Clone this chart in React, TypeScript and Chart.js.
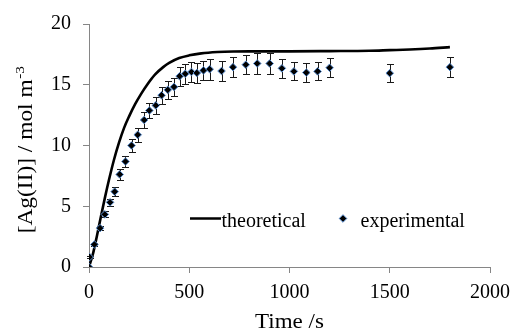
import React, { useEffect, useRef } from 'react';
import { Chart, registerables } from 'chart.js';

Chart.register(...registerables);

// Experimental data: time (s), [Ag(II)] (mol m^-3), error bar half-heights
const expTime = [0, 3, 27, 55, 79, 105, 128, 153, 182, 212, 243, 275, 301, 333, 362, 393, 424, 452, 480, 511, 538, 571, 602, 661, 718, 782, 839, 901, 962, 1022, 1084, 1140, 1200, 1500, 1800];
const expValue = [0, 0.82, 1.85, 3.2, 4.33, 5.32, 6.2, 7.62, 8.68, 10.0, 10.88, 12.1, 12.88, 13.3, 14.13, 14.58, 14.82, 15.7, 15.9, 16.05, 15.97, 16.18, 16.28, 16.13, 16.45, 16.65, 16.75, 16.75, 16.35, 16.1, 16.0, 16.1, 16.4, 15.95, 16.45];
const expError = [0, 0.05, 0.1, 0.18, 0.24, 0.3, 0.35, 0.42, 0.47, 0.54, 0.6, 0.62, 0.65, 0.68, 0.7, 0.72, 0.74, 0.78, 0.8, 0.8, 0.8, 0.8, 0.85, 0.8, 0.8, 0.8, 0.85, 0.85, 0.8, 0.75, 0.75, 0.75, 0.8, 0.75, 0.8];

// Theoretical curve
const theoTime = [0, 20, 40, 60, 80, 100, 125, 150, 175, 200, 230, 260, 290, 330, 370, 400, 450, 500, 560, 640, 720, 800, 900, 1000, 1200, 1400, 1500, 1600, 1700, 1800];
const theoValue = [0, 1.1, 2.6, 4.2, 5.75, 7.2, 8.85, 10.25, 11.45, 12.4, 13.4, 14.25, 15.0, 15.85, 16.45, 16.8, 17.2, 17.42, 17.58, 17.69, 17.74, 17.75, 17.75, 17.75, 17.77, 17.8, 17.85, 17.9, 17.98, 18.1];

const xTickValues = [0, 500, 1000, 1500, 2000];
const yTickValues = [0, 5, 10, 15, 20];

const xTitle = 'Time /s';
const yTitleMain = '[Ag(II)] / mol m';
const yTitleSup = '-3';
const legendLabels = ['theoretical', 'experimental'];

const SERIF = 'Liberation Serif';
const AXIS_GRAY = '#868686';
const MARKER_BORDER = '#5b8fd0';

Chart.defaults.font.family = SERIF;

const errorBarPlugin = {
  id: 'errorBars',
  beforeDatasetDraw(chart: any, args: any) {
    if (args.index !== 0) return;
    const ctx = chart.ctx;
    const yScale = chart.scales.y;
    const meta = chart.getDatasetMeta(0);
    ctx.save();
    ctx.strokeStyle = '#1a1a1a';
    ctx.lineWidth = 1;
    meta.data.forEach((pt: any, i: number) => {
      const err = expError[i];
      if (!err) return;
      const x = Math.round(pt.x) + 0.5;
      const top = Math.round(yScale.getPixelForValue(expValue[i] + err)) + 0.5;
      const bot = Math.round(yScale.getPixelForValue(expValue[i] - err)) + 0.5;
      ctx.beginPath();
      ctx.moveTo(x, top);
      ctx.lineTo(x, bot);
      ctx.moveTo(x - 3.5, top);
      ctx.lineTo(x + 3.5, top);
      ctx.moveTo(x - 3.5, bot);
      ctx.lineTo(x + 3.5, bot);
      ctx.stroke();
    });
    ctx.restore();
  },
};

const decorPlugin = {
  id: 'decor',
  afterDraw(chart: any) {
    const ctx = chart.ctx;
    const area = chart.chartArea;
    ctx.save();
    ctx.fillStyle = '#000';

    // X title
    ctx.font = `20px "${SERIF}"`;
    ctx.textBaseline = 'alphabetic';
    ctx.textAlign = 'left';
    {
      const w = ctx.measureText(xTitle).width;
      const sx = 1.15;
      const cx = (area.left + area.right) / 2;
      ctx.save();
      ctx.translate(cx, 328);
      ctx.scale(sx, 1);
      ctx.fillText(xTitle, -w / 2, 0);
      ctx.restore();
    }

    // Y title (rotated, with superscript)
    {
      ctx.save();
      ctx.translate(31.5, 150);
      ctx.rotate(-Math.PI / 2);
      ctx.scale(1.17, 1);
      ctx.font = `20px "${SERIF}"`;
      const wm = ctx.measureText(yTitleMain).width;
      ctx.font = `13px "${SERIF}"`;
      const ws = ctx.measureText(yTitleSup).width;
      const start = -(wm + ws) / 2;
      ctx.font = `20px "${SERIF}"`;
      ctx.fillText(yTitleMain, start, 0);
      ctx.font = `13px "${SERIF}"`;
      ctx.fillText(yTitleSup, start + wm + 0.5, -8);
      ctx.restore();
    }

    // Legend
    const ly = area.top + 194.5;
    ctx.strokeStyle = '#000';
    ctx.lineWidth = 2.5;
    ctx.beginPath();
    ctx.moveTo(area.left + 101, ly);
    ctx.lineTo(area.left + 132, ly);
    ctx.stroke();
    ctx.font = `20px "${SERIF}"`;
    ctx.fillText(legendLabels[0], area.left + 132.5, ly + 8.5);

    const mx = area.left + 254;
    const r = 3.8;
    ctx.beginPath();
    ctx.moveTo(mx - r, ly);
    ctx.lineTo(mx, ly - r);
    ctx.lineTo(mx + r, ly);
    ctx.lineTo(mx, ly + r);
    ctx.closePath();
    ctx.fillStyle = '#000';
    ctx.fill();
    ctx.lineWidth = 1;
    ctx.strokeStyle = MARKER_BORDER;
    ctx.stroke();
    ctx.fillStyle = '#000';
    ctx.fillText(legendLabels[1], area.left + 271.5, ly + 8.5);
    ctx.restore();
  },
};

export default function App() {
  const canvasRef = useRef<HTMLCanvasElement | null>(null);

  useEffect(() => {
    const canvas = canvasRef.current;
    if (!canvas) return;
    const expPoints = expTime.map((t, i) => ({ x: t, y: expValue[i] }));
    const theoPoints = theoTime.map((t, i) => ({ x: t, y: theoValue[i] }));

    const chart = new Chart(canvas, {
      type: 'scatter',
      data: {
        datasets: [
          {
            label: legendLabels[1],
            data: expPoints,
            showLine: false,
            pointStyle: 'rectRot',
            pointRadius: 3.8,
            backgroundColor: '#000',
            borderColor: MARKER_BORDER,
            borderWidth: 1,
          },
          {
            label: legendLabels[0],
            data: theoPoints,
            showLine: true,
            pointRadius: 0,
            borderColor: '#000',
            borderWidth: 2.6,
            cubicInterpolationMode: 'monotone',
            fill: false,
          } as any,
        ],
      },
      options: {
        animation: false,
        responsive: false,
        devicePixelRatio: 1,
        layout: { padding: { top: 19, right: 21, left: 0, bottom: 0 } },
        plugins: {
          legend: { display: false },
          tooltip: { enabled: false },
        },
        scales: {
          x: {
            type: 'linear',
            min: xTickValues[0],
            max: xTickValues[xTickValues.length - 1],
            afterFit: (scale: any) => {
              scale.height = 64;
            },
            afterBuildTicks: (scale: any) => {
              scale.ticks = xTickValues.map((v) => ({ value: v }));
            },
            ticks: {
              padding: 8,
              color: '#000',
              font: { family: SERIF, size: 20 },
              maxRotation: 0,
              callback: (v: any) => String(v),
            },
            grid: {
              display: true,
              drawOnChartArea: false,
              drawTicks: true,
              tickLength: 6,
              color: AXIS_GRAY,
            },
            border: { display: true, color: AXIS_GRAY, width: 1 },
          },
          y: {
            type: 'linear',
            min: yTickValues[0],
            max: yTickValues[yTickValues.length - 1],
            afterFit: (scale: any) => {
              scale.width = 89;
            },
            afterBuildTicks: (scale: any) => {
              scale.ticks = yTickValues.map((v) => ({ value: v }));
            },
            ticks: {
              padding: 12,
              color: '#000',
              font: { family: SERIF, size: 20 },
              callback: (v: any) => String(v),
            },
            grid: {
              display: true,
              drawOnChartArea: false,
              drawTicks: true,
              tickLength: 6,
              color: AXIS_GRAY,
            },
            border: { display: true, color: AXIS_GRAY, width: 1 },
          },
        },
      },
      plugins: [errorBarPlugin, decorPlugin],
    });

    return () => {
      chart.destroy();
    };
  }, []);

  return (
    <div style={{ position: 'fixed', left: 0, top: 0, width: 518, height: 331, background: '#fff' }}>
      <canvas ref={canvasRef} width={518} height={331} style={{ display: 'block', width: 518, height: 331 }} />
    </div>
  );
}
